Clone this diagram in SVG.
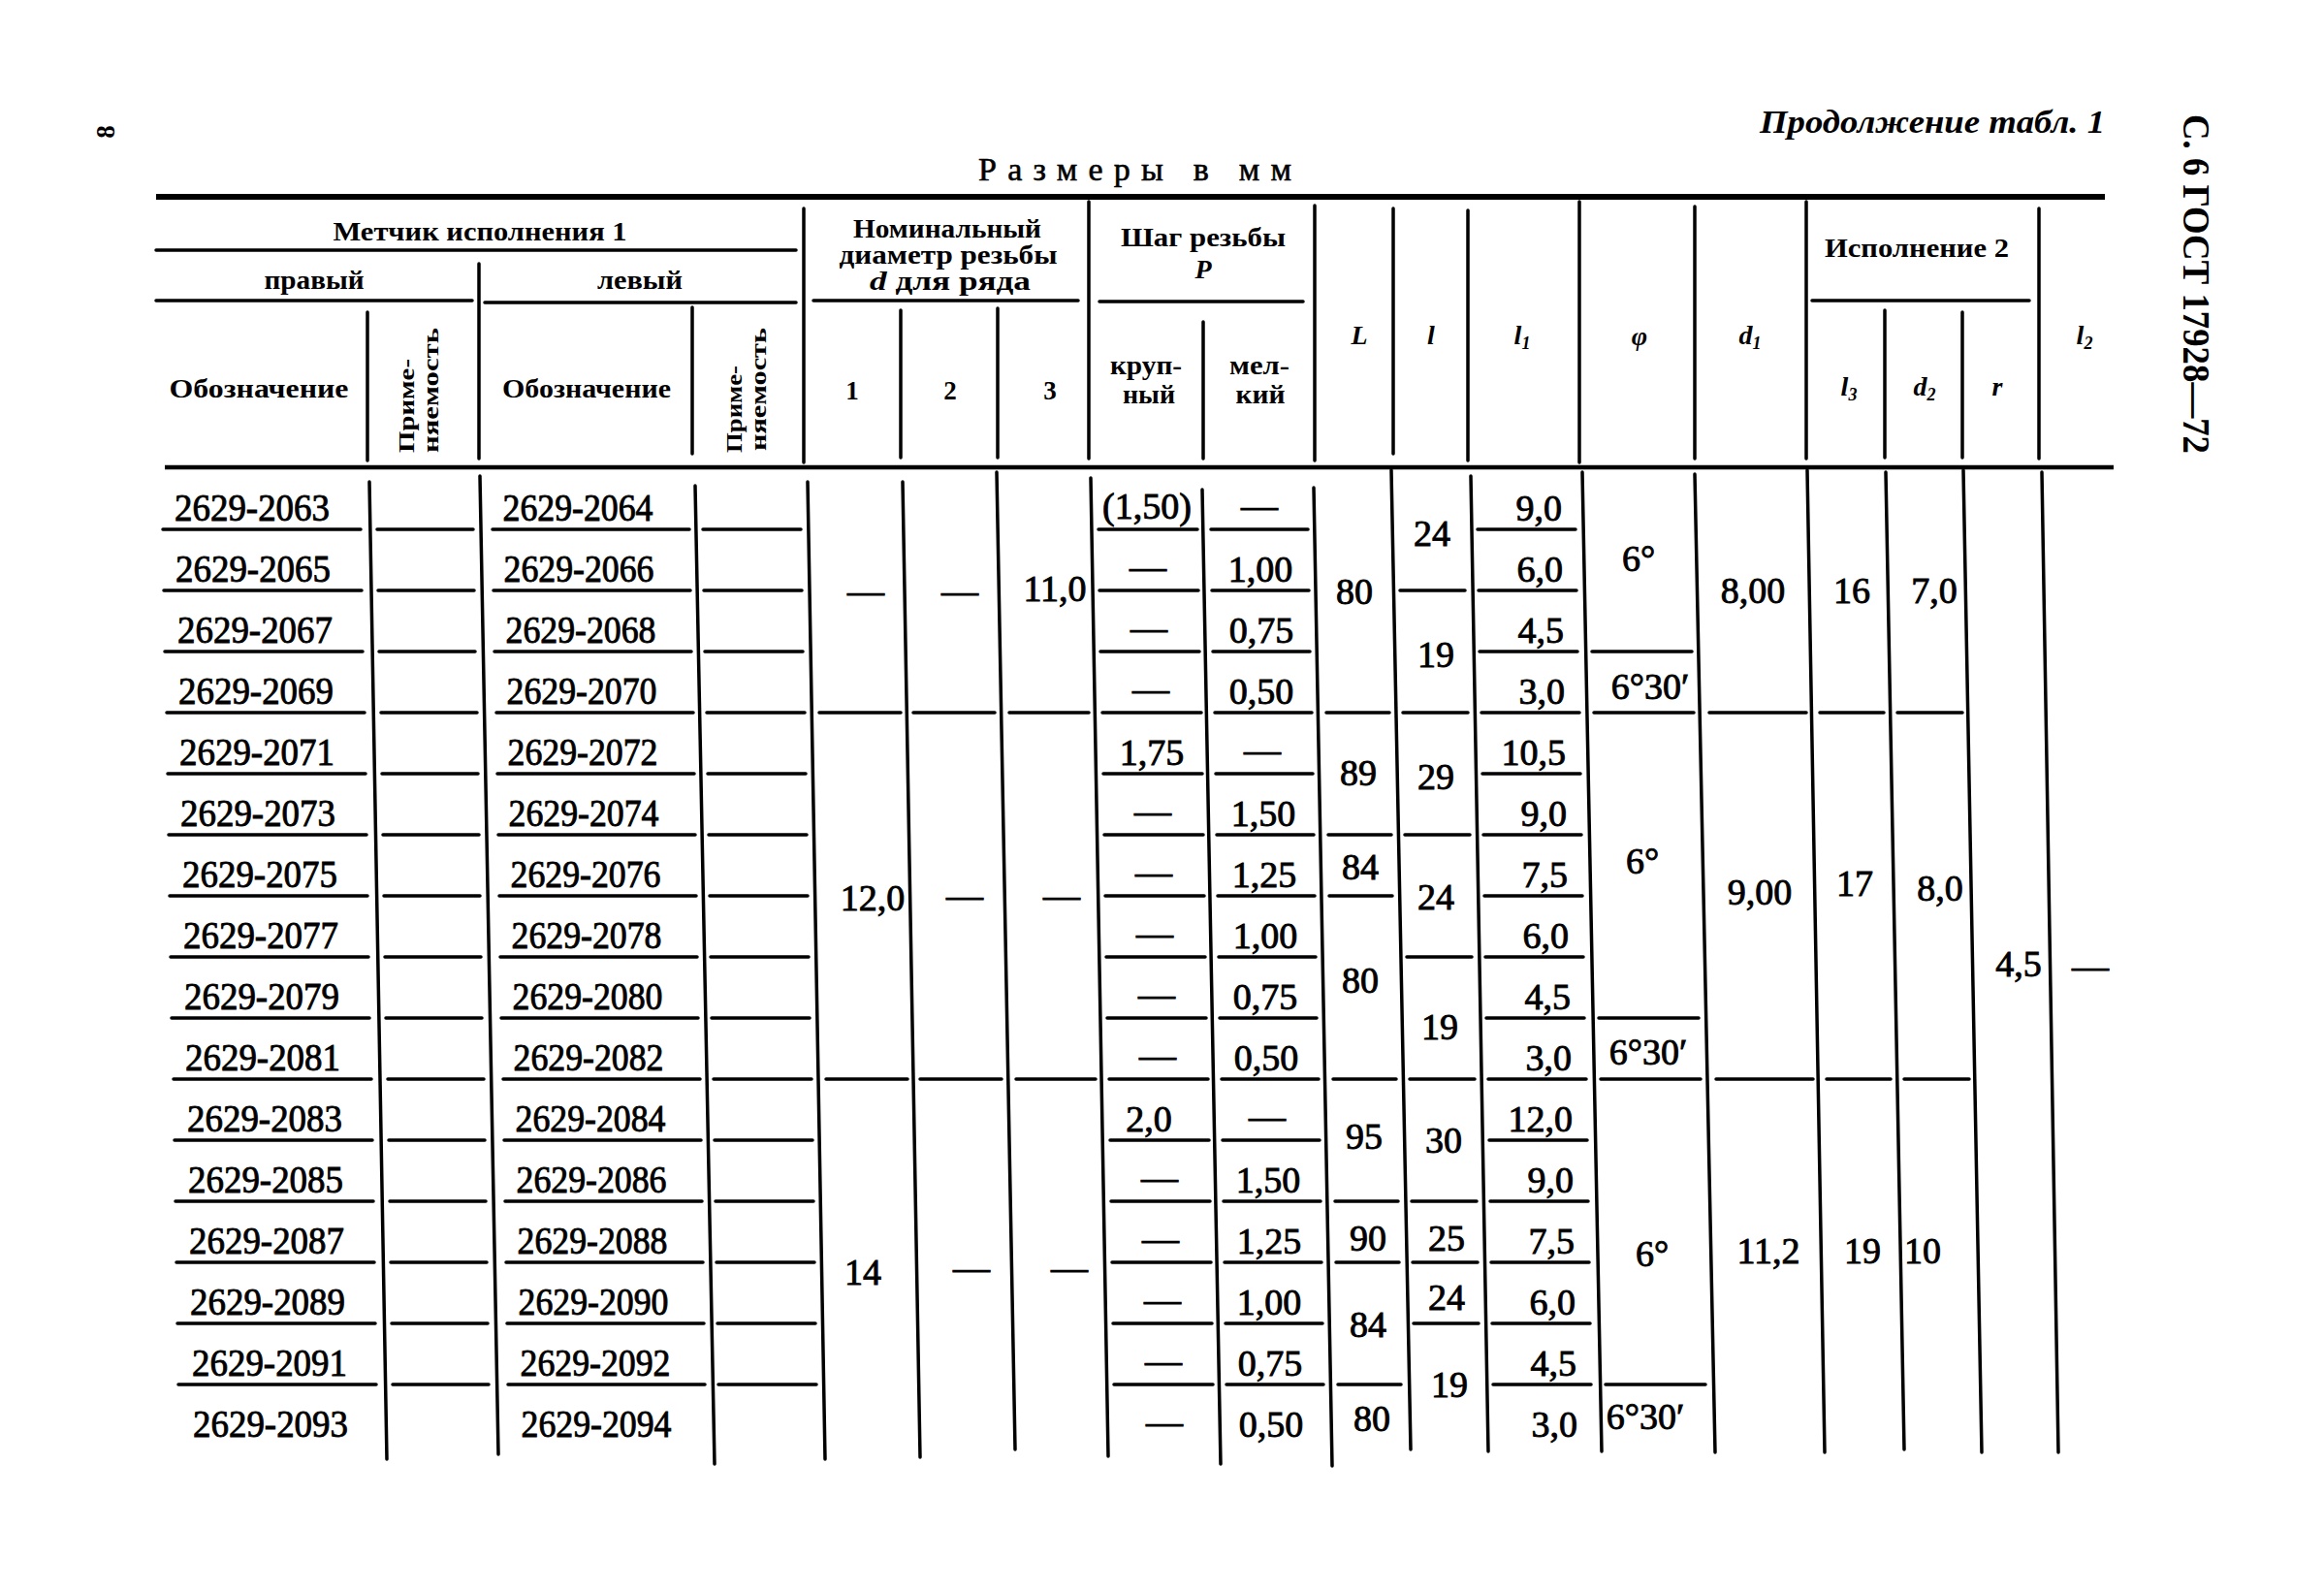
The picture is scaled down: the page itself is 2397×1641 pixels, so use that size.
<svg xmlns="http://www.w3.org/2000/svg" width="2397" height="1641" viewBox="0 0 2397 1641">
<style>
.ln{stroke:#000;stroke-width:3.5;fill:none;stroke-linecap:round}
.thk{stroke:#000;stroke-width:6;fill:none}
.mid{stroke:#000;stroke-width:4.5;fill:none}
.h{font-family:"Liberation Serif",serif;font-weight:bold;font-size:27px;fill:#000;text-anchor:middle}
.hi{font-family:"Liberation Serif",serif;font-weight:bold;font-style:italic;font-size:28px;fill:#000;text-anchor:middle}
.v{font-family:"Liberation Serif",serif;font-weight:bold;font-size:24px;fill:#000}
.t{font-family:"Liberation Serif",serif;font-size:38px;fill:#000;stroke:#000;stroke-width:0.9;text-anchor:middle}
.te{font-family:"Liberation Serif",serif;font-size:38px;fill:#000;stroke:#000;stroke-width:0.9;text-anchor:end}
.d{font-family:"Liberation Serif",serif;font-size:40px;fill:#000;stroke:#000;stroke-width:0.9;text-anchor:middle}
</style>
<rect width="2397" height="1641" fill="#fff"/>
<g id="page-marks">
<text class="h" font-size="40" transform="translate(118,136) rotate(-90)">8</text>
<text font-family="Liberation Serif,serif" font-weight="bold" font-style="italic" font-size="34" x="1815" y="137" textLength="356" lengthAdjust="spacingAndGlyphs">Продолжение табл. 1</text>
<text font-family="Liberation Serif,serif" font-weight="bold" font-size="40" transform="translate(2252,118) rotate(90)" textLength="350" lengthAdjust="spacingAndGlyphs">С. 6 ГОСТ 17928—72</text>
<text font-family="Liberation Serif,serif" font-size="34" stroke="#000" stroke-width="0.6" x="1009" y="186" textLength="323" lengthAdjust="spacing">Размеры в мм</text>
</g>
<g id="header-lines">
<path class="thk" d="M161,203H2171"/>
<path class="mid" d="M170,482H2180"/>
<path class="ln" d="M161,258H821M161,310H487M500,312H821M839,310H1112M1134,311H1344M1869,310H2093"/>
<path class="ln" d="M379,322V475M494,272V473M714,317V468M829,215V477M929,320V472M1029,318V472M1123,208V473M1241,332V473M1356,212V475M1437,215V468M1514,217V475M1629,208V477M1748,213V473M1863,208V473M1944,320V472M2024,322V472M2103,215V473"/>
</g>
<g id="header-text">
<text class="h" x="495" y="248" textLength="303" lengthAdjust="spacingAndGlyphs">Метчик исполнения 1</text>
<text class="h" x="324" y="298" textLength="103" lengthAdjust="spacingAndGlyphs">правый</text>
<text class="h" x="660" y="298" textLength="88" lengthAdjust="spacingAndGlyphs">левый</text>
<text class="h" x="267" y="410" textLength="185" lengthAdjust="spacingAndGlyphs">Обозначение</text>
<text class="h" x="605" y="410" textLength="174" lengthAdjust="spacingAndGlyphs">Обозначение</text>
<text class="v" transform="translate(427,467) rotate(-90)" textLength="97" lengthAdjust="spacingAndGlyphs">Приме-</text>
<text class="v" transform="translate(452,467) rotate(-90)" textLength="129" lengthAdjust="spacingAndGlyphs">няемость</text>
<text class="v" transform="translate(765,467) rotate(-90)" textLength="90" lengthAdjust="spacingAndGlyphs">Приме-</text>
<text class="v" transform="translate(790,465) rotate(-90)" textLength="127" lengthAdjust="spacingAndGlyphs">няемость</text>
<text class="h" x="977" y="245" textLength="194" lengthAdjust="spacingAndGlyphs">Номинальный</text>
<text class="h" x="978" y="272" textLength="225" lengthAdjust="spacingAndGlyphs">диаметр резьбы</text>
<text class="h" x="980" y="299" textLength="166" lengthAdjust="spacingAndGlyphs"><tspan font-style="italic">d</tspan> для ряда</text>
<text class="h" x="879" y="412">1</text>
<text class="h" x="980" y="412">2</text>
<text class="h" x="1083" y="412">3</text>
<text class="h" x="1241" y="254" textLength="170" lengthAdjust="spacingAndGlyphs">Шаг резьбы</text>
<text class="hi" font-size="25" x="1241" y="287">P</text>
<text class="h" font-size="24" x="1182" y="386" textLength="74" lengthAdjust="spacingAndGlyphs">круп-</text>
<text class="h" font-size="24" x="1185" y="416" textLength="54" lengthAdjust="spacingAndGlyphs">ный</text>
<text class="h" font-size="24" x="1299" y="386" textLength="62" lengthAdjust="spacingAndGlyphs">мел-</text>
<text class="h" font-size="24" x="1300" y="416" textLength="51" lengthAdjust="spacingAndGlyphs">кий</text>
<text class="hi" x="1402" y="355">L</text>
<text class="hi" x="1476" y="355">l</text>
<text class="hi" x="1570" y="355">l<tspan font-size="18" dy="5">1</tspan></text>
<text class="hi" x="1691" y="356">φ</text>
<text class="hi" x="1805" y="355">d<tspan font-size="18" dy="5">1</tspan></text>
<text class="h" x="1977" y="265" textLength="190" lengthAdjust="spacingAndGlyphs">Исполнение 2</text>
<text class="hi" x="1907" y="408">l<tspan font-size="18" dy="5">3</tspan></text>
<text class="hi" x="1985" y="408">d<tspan font-size="18" dy="5">2</tspan></text>
<text class="hi" x="2060" y="408">r</text>
<text class="hi" x="2150" y="355">l<tspan font-size="18" dy="5">2</tspan></text>
</g>
<g id="body-lines">
<path class="ln" d="M381,497L399,1505M495,491L514,1500M717,501L737,1510M833,497L851,1505M931,497L949,1503M1028,487L1047,1495M1125,493L1143,1502M1240,505L1259,1510M1355,503L1374,1512M1435,485L1455,1495M1517,491L1535,1497M1632,487L1652,1497M1748,489L1769,1498M1864,485L1882,1498M1945,487L1964,1495M2025,485L2044,1498M2106,487L2123,1498"/>
<path class="ln" d="M168,546H372M169,609H373M170,672H374M172,735H376M173,798H377M174,861H378M175,924H379M176,987H380M177,1050H381M179,1113H383M180,1176H384M181,1239H385M182,1302H386M183,1365H387M184,1428H388"/>
<path class="ln" d="M389,546H488M390,609H489M391,672H490M393,735H492M394,798H493M395,861H494M396,924H495M397,987H496M398,1050H497M400,1113H499M401,1176H500M402,1239H501M403,1302H502M404,1365H503M405,1428H504"/>
<path class="ln" d="M508,546H711M509,609H712M510,672H713M512,735H715M513,798H716M514,861H717M515,924H718M516,987H719M517,1050H720M519,1113H722M520,1176H723M521,1239H724M522,1302H725M523,1365H726M524,1428H727"/>
<path class="ln" d="M725,546H826M726,609H827M727,672H828M729,735H830M730,798H831M731,861H832M732,924H833M733,987H834M734,1050H835M736,1113H837M737,1176H838M738,1239H839M739,1302H840M740,1365H841M741,1428H842"/>
<path class="ln" d="M845,735H929M852,1113H936M942,735H1026M949,1113H1033M1041,735H1123M1048,1113H1130"/>
<path class="ln" d="M1133,546H1235M1134,609H1236M1135,672H1237M1137,735H1239M1138,798H1240M1139,861H1241M1140,924H1242M1141,987H1243M1142,1050H1244M1144,1113H1246M1145,1176H1247M1146,1239H1248M1147,1302H1249M1148,1365H1250M1149,1428H1251"/>
<path class="ln" d="M1249,546H1349M1250,609H1350M1251,672H1351M1253,735H1353M1254,798H1354M1255,861H1355M1256,924H1356M1257,987H1357M1258,1050H1358M1260,1113H1360M1261,1176H1361M1262,1239H1362M1263,1302H1363M1264,1365H1364M1265,1428H1365"/>
<path class="ln" d="M1368,735H1433M1370,861H1435M1371,924H1436M1375,1113H1440M1377,1239H1442M1378,1302H1443M1380,1428H1445"/>
<path class="ln" d="M1444,609H1511M1447,735H1514M1449,861H1516M1451,987H1518M1454,1113H1521M1456,1239H1523M1457,1302H1524M1458,1365H1525"/>
<path class="ln" d="M1524,546H1625M1525,609H1626M1526,672H1627M1528,735H1629M1529,798H1630M1530,861H1631M1531,924H1632M1532,987H1633M1533,1050H1634M1535,1113H1636M1536,1176H1637M1537,1239H1638M1538,1302H1639M1539,1365H1640M1540,1428H1641"/>
<path class="ln" d="M1642,672H1745M1644,735H1747M1649,1050H1752M1651,1113H1754M1656,1428H1759"/>
<path class="ln" d="M1763,735H1863M1770,1113H1870M1877,735H1943M1884,1113H1950M1957,735H2024M1964,1113H2031"/>
</g>
<g id="body-designations">
<text class="d" x="260" y="537" textLength="160" lengthAdjust="spacingAndGlyphs">2629-2063</text>
<text class="d" x="261" y="600" textLength="160" lengthAdjust="spacingAndGlyphs">2629-2065</text>
<text class="d" x="263" y="663" textLength="160" lengthAdjust="spacingAndGlyphs">2629-2067</text>
<text class="d" x="264" y="726" textLength="160" lengthAdjust="spacingAndGlyphs">2629-2069</text>
<text class="d" x="265" y="789" textLength="160" lengthAdjust="spacingAndGlyphs">2629-2071</text>
<text class="d" x="266" y="852" textLength="160" lengthAdjust="spacingAndGlyphs">2629-2073</text>
<text class="d" x="268" y="915" textLength="160" lengthAdjust="spacingAndGlyphs">2629-2075</text>
<text class="d" x="269" y="978" textLength="160" lengthAdjust="spacingAndGlyphs">2629-2077</text>
<text class="d" x="270" y="1041" textLength="160" lengthAdjust="spacingAndGlyphs">2629-2079</text>
<text class="d" x="271" y="1104" textLength="160" lengthAdjust="spacingAndGlyphs">2629-2081</text>
<text class="d" x="273" y="1167" textLength="160" lengthAdjust="spacingAndGlyphs">2629-2083</text>
<text class="d" x="274" y="1230" textLength="160" lengthAdjust="spacingAndGlyphs">2629-2085</text>
<text class="d" x="275" y="1293" textLength="160" lengthAdjust="spacingAndGlyphs">2629-2087</text>
<text class="d" x="276" y="1356" textLength="160" lengthAdjust="spacingAndGlyphs">2629-2089</text>
<text class="d" x="278" y="1419" textLength="160" lengthAdjust="spacingAndGlyphs">2629-2091</text>
<text class="d" x="279" y="1482" textLength="160" lengthAdjust="spacingAndGlyphs">2629-2093</text>
<text class="d" x="596" y="537" textLength="155" lengthAdjust="spacingAndGlyphs">2629-2064</text>
<text class="d" x="597" y="600" textLength="155" lengthAdjust="spacingAndGlyphs">2629-2066</text>
<text class="d" x="599" y="663" textLength="155" lengthAdjust="spacingAndGlyphs">2629-2068</text>
<text class="d" x="600" y="726" textLength="155" lengthAdjust="spacingAndGlyphs">2629-2070</text>
<text class="d" x="601" y="789" textLength="155" lengthAdjust="spacingAndGlyphs">2629-2072</text>
<text class="d" x="602" y="852" textLength="155" lengthAdjust="spacingAndGlyphs">2629-2074</text>
<text class="d" x="604" y="915" textLength="155" lengthAdjust="spacingAndGlyphs">2629-2076</text>
<text class="d" x="605" y="978" textLength="155" lengthAdjust="spacingAndGlyphs">2629-2078</text>
<text class="d" x="606" y="1041" textLength="155" lengthAdjust="spacingAndGlyphs">2629-2080</text>
<text class="d" x="607" y="1104" textLength="155" lengthAdjust="spacingAndGlyphs">2629-2082</text>
<text class="d" x="609" y="1167" textLength="155" lengthAdjust="spacingAndGlyphs">2629-2084</text>
<text class="d" x="610" y="1230" textLength="155" lengthAdjust="spacingAndGlyphs">2629-2086</text>
<text class="d" x="611" y="1293" textLength="155" lengthAdjust="spacingAndGlyphs">2629-2088</text>
<text class="d" x="612" y="1356" textLength="155" lengthAdjust="spacingAndGlyphs">2629-2090</text>
<text class="d" x="614" y="1419" textLength="155" lengthAdjust="spacingAndGlyphs">2629-2092</text>
<text class="d" x="615" y="1482" textLength="155" lengthAdjust="spacingAndGlyphs">2629-2094</text>
</g>
<g id="body-values">
<text class="t" x="893" y="622">—</text>
<text class="t" x="900" y="939">12,0</text>
<text class="t" x="890" y="1325">14</text>
<text class="t" x="990" y="622">—</text>
<text class="t" x="995" y="936">—</text>
<text class="t" x="1002" y="1320">—</text>
<text class="t" x="1088" y="620">11,0</text>
<text class="t" x="1095" y="936">—</text>
<text class="t" x="1103" y="1320">—</text>
<text class="t" x="1183" y="535">(1,50)</text>
<text class="t" x="1184" y="597">—</text>
<text class="t" x="1185" y="660">—</text>
<text class="t" x="1187" y="723">—</text>
<text class="t" x="1188" y="789">1,75</text>
<text class="t" x="1189" y="849">—</text>
<text class="t" x="1190" y="912">—</text>
<text class="t" x="1191" y="975">—</text>
<text class="t" x="1193" y="1038">—</text>
<text class="t" x="1194" y="1101">—</text>
<text class="t" x="1185" y="1167">2,0</text>
<text class="t" x="1196" y="1227">—</text>
<text class="t" x="1197" y="1290">—</text>
<text class="t" x="1199" y="1353">—</text>
<text class="t" x="1200" y="1416">—</text>
<text class="t" x="1201" y="1479">—</text>
<text class="t" x="1299" y="534">—</text>
<text class="t" x="1300" y="600">1,00</text>
<text class="t" x="1301" y="663">0,75</text>
<text class="t" x="1301" y="726">0,50</text>
<text class="t" x="1302" y="786">—</text>
<text class="t" x="1303" y="852">1,50</text>
<text class="t" x="1304" y="915">1,25</text>
<text class="t" x="1305" y="978">1,00</text>
<text class="t" x="1305" y="1041">0,75</text>
<text class="t" x="1306" y="1104">0,50</text>
<text class="t" x="1307" y="1164">—</text>
<text class="t" x="1308" y="1230">1,50</text>
<text class="t" x="1309" y="1293">1,25</text>
<text class="t" x="1309" y="1356">1,00</text>
<text class="t" x="1310" y="1419">0,75</text>
<text class="t" x="1311" y="1482">0,50</text>
<text class="t" x="1397" y="623">80</text>
<text class="t" x="1401" y="810">89</text>
<text class="t" x="1403" y="907">84</text>
<text class="t" x="1403" y="1024">80</text>
<text class="t" x="1407" y="1185">95</text>
<text class="t" x="1411" y="1290">90</text>
<text class="t" x="1411" y="1379">84</text>
<text class="t" x="1415" y="1476">80</text>
<text class="t" x="1477" y="563">24</text>
<text class="t" x="1481" y="688">19</text>
<text class="t" x="1481" y="814">29</text>
<text class="t" x="1481" y="938">24</text>
<text class="t" x="1485" y="1072">19</text>
<text class="t" x="1489" y="1189">30</text>
<text class="t" x="1492" y="1290">25</text>
<text class="t" x="1492" y="1351">24</text>
<text class="t" x="1495" y="1441">19</text>
<text class="te" x="1611" y="537">9,0</text>
<text class="te" x="1612" y="600">6,0</text>
<text class="te" x="1613" y="663">4,5</text>
<text class="te" x="1614" y="726">3,0</text>
<text class="te" x="1615" y="789">10,5</text>
<text class="te" x="1616" y="852">9,0</text>
<text class="te" x="1617" y="915">7,5</text>
<text class="te" x="1618" y="978">6,0</text>
<text class="te" x="1620" y="1041">4,5</text>
<text class="te" x="1621" y="1104">3,0</text>
<text class="te" x="1622" y="1167">12,0</text>
<text class="te" x="1623" y="1230">9,0</text>
<text class="te" x="1624" y="1293">7,5</text>
<text class="te" x="1625" y="1356">6,0</text>
<text class="te" x="1626" y="1419">4,5</text>
<text class="te" x="1627" y="1482">3,0</text>
<text class="t" x="1690" y="589">6°</text>
<text class="t" x="1702" y="721">6°30′</text>
<text class="t" x="1694" y="901">6°</text>
<text class="t" x="1700" y="1098">6°30′</text>
<text class="t" x="1704" y="1306">6°</text>
<text class="t" x="1697" y="1474">6°30′</text>
<text class="t" x="1808" y="622">8,00</text>
<text class="t" x="1815" y="933">9,00</text>
<text class="t" x="1824" y="1303">11,2</text>
<text class="t" x="1910" y="622">16</text>
<text class="t" x="1913" y="924">17</text>
<text class="t" x="1921" y="1303">19</text>
<text class="t" x="1995" y="622">7,0</text>
<text class="t" x="2001" y="929">8,0</text>
<text class="t" x="1983" y="1303">10</text>
<text class="t" x="2082" y="1007">4,5</text>
<text class="t" x="2156" y="1009">—</text>
</g>
</svg>
